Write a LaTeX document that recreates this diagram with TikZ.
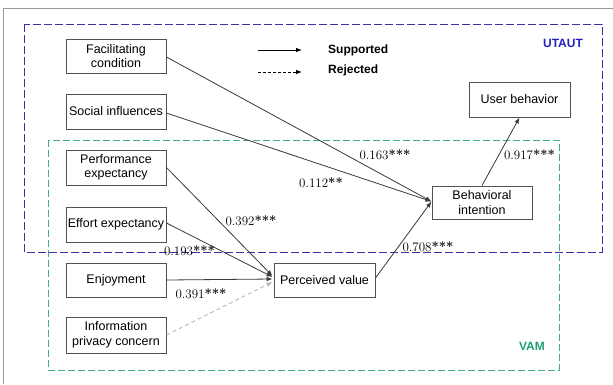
\documentclass[tikz,border=0pt]{standalone}
\usepackage{fontspec}
\setmainfont{Latin Modern Roman}
\newfontfamily\nodefont{Liberation Sans}
\usetikzlibrary{arrows.meta}
\definecolor{utautc}{HTML}{3B2FA8}
\definecolor{utauttext}{HTML}{2222C0}
\definecolor{vamc}{HTML}{45A892}
\definecolor{vamtext}{HTML}{1FA070}
\definecolor{edgec}{HTML}{3A3A3A}
\definecolor{boxc}{HTML}{505050}
\newcommand{\stars}[1]{{\bfseries #1}}
\begin{document}
\begin{tikzpicture}[x=1pt,y=-1pt,
  box/.style={draw=boxc,line width=0.9pt,fill=white,inner sep=0pt,align=center,
    font=\nodefont\fontsize{12.5}{14.5}\selectfont,minimum width=100pt},
  arr/.style={draw=edgec,line width=0.8pt,-{Latex[length=6pt,width=4.5pt]}},
  rej/.style={draw=black!30,line width=0.8pt,dash pattern=on 4pt off 3pt,-{Latex[length=6pt,width=4.5pt,fill=black!30]}},
  coef/.style={font=\fontsize{13}{15}\selectfont,inner sep=0pt},
  legtext/.style={font=\nodefont\bfseries\fontsize{12}{14}\selectfont,inner sep=0pt,anchor=west}]
\useasboundingbox (0,0) rectangle (613,384);
\fill[white] (0,0) rectangle (613,384);
% outer frame
\draw[black!40,line width=0.8pt] (3,384) -- (3,8) -- (613,8);
% group boxes
\draw[utautc,line width=0.9pt,dash pattern=on 8pt off 3pt] (24,24) rectangle (602,252);
\draw[vamc,line width=0.9pt,dash pattern=on 7pt off 3pt] (48,140) rectangle (559,370);
\node[font=\nodefont\bfseries\fontsize{12}{14}\selectfont,text=utauttext,inner sep=0pt] (utaut) at (563,43) {UTAUT};
\node[font=\nodefont\bfseries\fontsize{12}{14}\selectfont,text=vamtext,inner sep=0pt] (vam) at (532,346) {VAM};
% nodes
\node[box,minimum height=34pt] (fc) at (116,56) {Facilitating\\condition};
\node[box,minimum height=35pt] (si) at (116,111.5) {Social influences};
\node[box,minimum height=35pt] (pe) at (116,167.5) {Performance\\expectancy};
\node[box,minimum height=35pt] (ee) at (116,224.5) {Effort expectancy};
\node[box,minimum height=34pt] (en) at (116,280) {Enjoyment};
\node[box,minimum height=36pt] (ipc) at (116,335) {Information\\privacy concern};
\node[box,minimum width=101pt,minimum height=34pt] (pv) at (324.5,280) {Perceived value};
\node[box,minimum height=33pt] (bi) at (482,202.5) {Behavioral\\intention};
\node[box,minimum width=101pt,minimum height=35pt] (ub) at (519.5,99.5) {User behavior};
% legend
\coordinate (ls1) at (258,50); \coordinate (le1) at (302,50);
\coordinate (ls2) at (258,72); \coordinate (le2) at (302,72);
\draw[draw=black,line width=0.8pt,-{Latex[length=6pt,width=4.5pt]}] (ls1) -- (le1);
\draw[draw=black,line width=0.8pt,dash pattern=on 3pt off 2pt,-{Latex[length=6pt,width=4.5pt]}] (ls2) -- (le2);
\node[legtext] (sup) at (328,50) {Supported};
\node[legtext] (rejt) at (328,70) {Rejected};
% edges
\draw[arr] ([yshift=-1pt]fc.east) -- ([yshift=1pt]bi.west);
\draw[arr] ([yshift=-1.5pt]si.east) -- ([yshift=1pt]bi.west);
\draw[arr] (pe.east) -- ([xshift=-1pt,yshift=4pt]pv.west);
\draw[arr] ([yshift=1.5pt]ee.east) -- ([xshift=-1pt,yshift=3pt]pv.west);
\draw[arr] (en.east) -- ([xshift=-1pt,yshift=1pt]pv.west);
\draw[rej] (ipc.east) -- ([xshift=-1pt,yshift=-2pt]pv.west);
\draw[arr] ([yshift=2pt]pv.east) -- ([yshift=1pt]bi.west);
\draw[arr] (bi.north) -- (ub.south);
% coefficients
\node[coef] (c1) at (385,155) {0.163\stars{***}};
\node[coef] (c2) at (529.5,155) {0.917\stars{***}};
\node[coef] (c3) at (321,183) {0.112\stars{**}};
\node[coef] (c4) at (251,221) {0.392\stars{***}};
\node[coef] (c5) at (189.5,251) {0.193\stars{***}};
\node[coef] (c6) at (201,294) {0.391\stars{***}};
\node[coef] (c7) at (428,247) {0.708\stars{***}};
\end{tikzpicture}
\end{document}
